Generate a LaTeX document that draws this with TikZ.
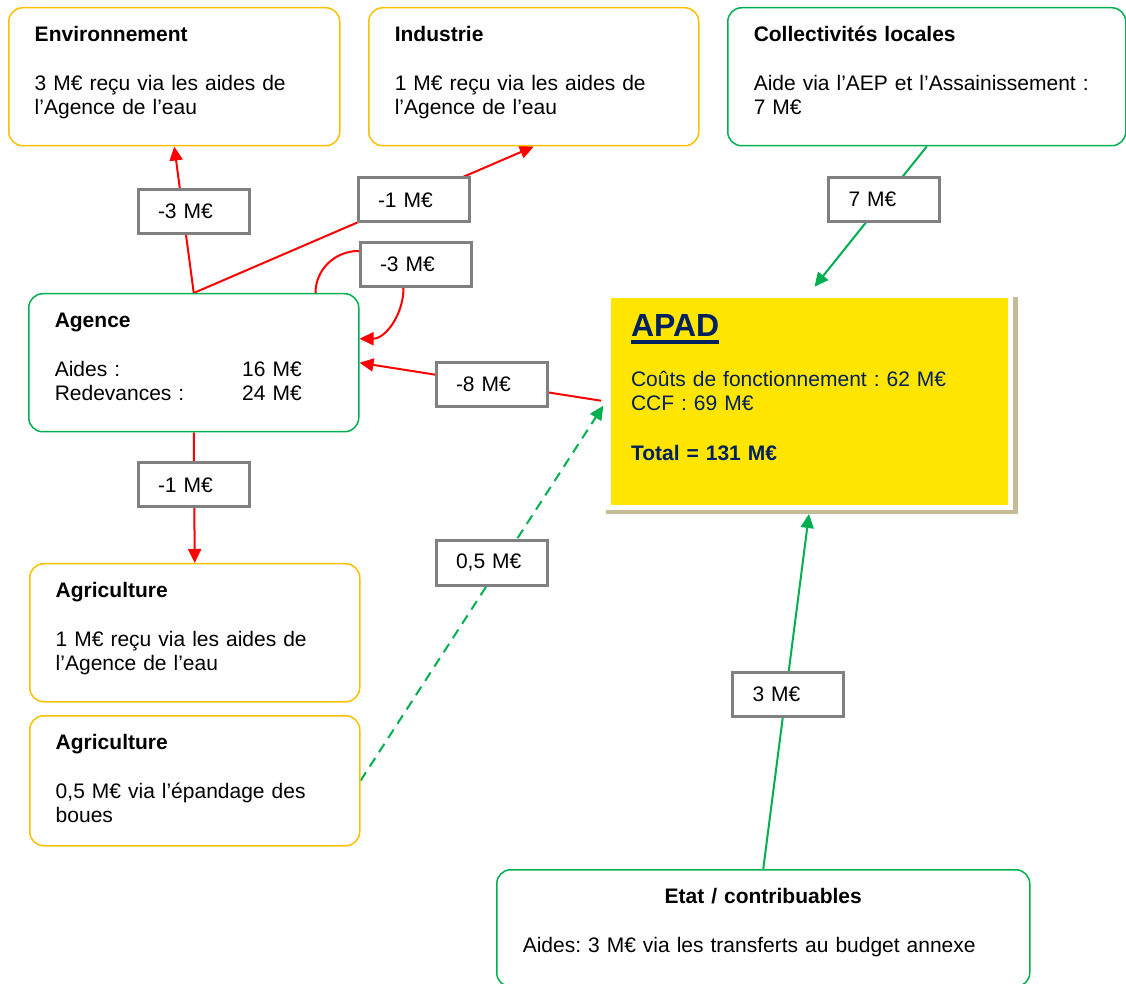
\documentclass[tikz,border=0pt]{standalone}
\usepackage{fontspec}
\setmainfont{Liberation Sans}
\frenchspacing
\usetikzlibrary{arrows.meta,calc,backgrounds,shadows}
\definecolor{boxorange}{RGB}{255,192,0}
\definecolor{boxgreen}{RGB}{0,176,80}
\definecolor{flowred}{RGB}{255,0,0}
\definecolor{lblgray}{RGB}{128,128,128}
\definecolor{apadyellow}{RGB}{255,229,0}
\definecolor{apadshadow}{RGB}{196,189,151}
\definecolor{apadnavy}{RGB}{0,32,96}
\newcommand{\apadtitle}[1]{\setbox0=\hbox{#1}\rlap{\rule[-3.5pt]{\wd0}{2pt}}\box0}
\begin{document}
\begin{tikzpicture}[x=0.5pt,y=-0.5pt,
    infobox/.style={draw=#1,line width=0.75pt,rounded corners=7pt,fill=white,anchor=north west,align=left,inner xsep=13pt,inner ysep=0pt,text height=17pt,text depth=52pt,font=\fontsize{10.5pt}{12pt}\selectfont},
    valbox/.style={draw=lblgray,line width=1.5pt,fill=white,text width=35.5pt,align=left,inner xsep=10pt,minimum height=22pt,font=\fontsize{10.5pt}{12pt}\selectfont},
    apadbox/.style={fill=apadyellow,draw=white,line width=2.5pt,general shadow={fill=apadshadow,shadow xshift=1pt,shadow yshift=-2pt,shadow scale=1.025},text=apadnavy,text width=178.5pt,align=left,inner xsep=11.25pt,inner ysep=0pt,text height=20.75pt,text depth=85.25pt,font=\fontsize{10.5pt}{12pt}\selectfont},
    redflow/.style={draw=flowred,line width=1pt,-{Triangle[length=7pt,width=6.5pt]}},
    greenflow/.style={draw=boxgreen,line width=1pt,-{Triangle[length=7pt,width=6.5pt]}}]
    \useasboundingbox (0,0) rectangle (1126,984);
    \node[infobox=boxorange,text width=139.5pt] (env) at (8,7) {\textbf{Environnement}\\[12.5pt]3 M€ reçu via les aides de\\l’Agence de l’eau};
    \node[infobox=boxorange,text width=139pt] (ind) at (368,7) {\textbf{Industrie}\\[12.5pt]1 M€ reçu via les aides de\\l’Agence de l’eau};
    \node[infobox=boxgreen,text width=173pt] (coll) at (727,7) {\textbf{Collectivités locales}\\[12.5pt]Aide via l’AEP et l’Assainissement :\\7 M€};
    \node[infobox=boxgreen,text width=139pt] (agence) at (28,293) {\textbf{Agence}\\[12.5pt]\makebox[123.5pt][l]{Aides :\hfill 16 M€}\\\makebox[123.5pt][l]{Redevances :\hfill 24 M€}};
    \node[infobox=boxorange,text width=139pt] (agri) at (29,563) {\textbf{Agriculture}\\[12.5pt]1 M€ reçu via les aides de\\l’Agence de l’eau};
    \node[infobox=boxorange,text width=139pt,text depth=48pt] (boues) at (29,715) {\textbf{Agriculture}\\[12.5pt]0,5 M€ via l’épandage des\\boues};
    \node[infobox=boxgreen,text width=240.5pt,text depth=41.5pt] (etat) at (496,869) {\makebox[\linewidth]{\textbf{Etat / contribuables}}\\[12.5pt]Aides: 3 M€ via les transferts au budget annexe};
    \node[apadbox] (apad) at (809.5,401.5) {{\fontsize{16pt}{19pt}\selectfont\bfseries\apadtitle{APAD}}\\[13pt]Coûts de fonctionnement : 62 M€\\CCF : 69 M€\\[13pt]\textbf{Total = 131 M€}};
    \node[valbox] (envval) at (193.5,211.5) {-3 M€};
    \node[valbox] (indval) at (413.5,200) {-1 M€};
    \node[valbox] (loopval) at (415.5,264.5) {-3 M€};
    \node[valbox] (collval) at (884,199.5) {7 M€};
    \node[valbox] (apadval) at (491.5,384.5) {-8 M€};
    \node[valbox] (agrival) at (193.5,485) {-1 M€};
    \node[valbox] (bouesval) at (491.5,563) {0,5 M€};
    \node[valbox] (etatval) at (788,694) {3 M€};
    \begin{scope}[on background layer]
        \draw[redflow] (agence.north) -- (env.south);
        \draw[redflow] (agence.north) -- (ind.south);
        \draw[redflow] ($(agence.north east)+(-44,0)$) to[out=90,in=180] ($(loopval.west)+(0,-13.5)$) -- ($(loopval.south)+(-12,0)$) to[out=-90,in=0] ($(agence.east)+(0,-24)$);
        \draw[redflow,shorten <=2.5pt] (apad.west) -- (agence.east);
        \draw[redflow] (agence.south) -- (agri.north);
        \draw[greenflow,dash pattern=on 5pt off 3.5pt,shorten >=2.5pt] (boues.east) -- (apad.west);
        \draw[greenflow,shorten >=4pt] (coll.south) -- (apad.north);
        \draw[greenflow,shorten >=2pt] (etat.north) -- (apad.south);
    \end{scope}
\end{tikzpicture}
\end{document}
